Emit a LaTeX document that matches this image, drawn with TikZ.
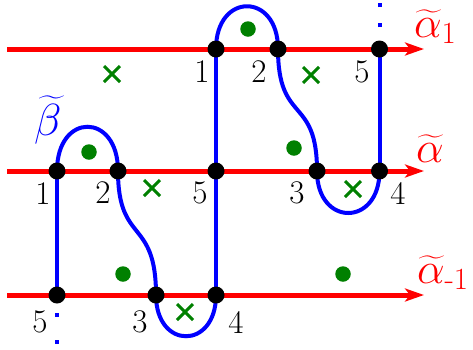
\RequirePackage{fix-cm}
\documentclass[tikz,border=0pt]{standalone}
\usepackage{amsmath}
\usetikzlibrary{arrows.meta,shapes.misc}
\definecolor{dkgreen}{RGB}{0,128,0}
\begin{document}
\begin{tikzpicture}[x=1pt,y=-1pt,
  redline/.style={red, line width=5pt, -{Stealth[length=19pt,width=13pt,inset=5pt]}},
  blueline/.style={blue, line width=4pt},
  bluedots/.style={blue, line width=4pt},
  dot/.style={circle, fill=black, minimum size=17pt, inner sep=0pt},
  gdot/.style={circle, fill=dkgreen, minimum size=15.5pt, inner sep=0pt},
  gcross/.style={cross out, draw=dkgreen, line width=3pt, minimum size=13pt, inner sep=0pt},
  numlab/.style={inner sep=0pt, font=\fontsize{33}{40}\selectfont},
  mathlab/.style={inner sep=0pt, anchor=base west, font=\fontsize{44}{52}\selectfont}
]
\useasboundingbox (0,0) rectangle (473,349);
% red lines
\coordinate (s1) at (7,49);  \coordinate (e1) at (424,49);
\coordinate (s0) at (7,171); \coordinate (e0) at (424,171);
\coordinate (sm) at (7,295); \coordinate (em) at (424,295);
\draw[redline] (s1) -- (e1);
\draw[redline] (s0) -- (e0);
\draw[redline] (sm) -- (em);
% intersection points (coordinates)
\coordinate (t1) at (216,49);
\coordinate (t2) at (278,49);
\coordinate (t5) at (379.5,49);
\coordinate (m1) at (57,171);
\coordinate (m2) at (118,171);
\coordinate (m5) at (216,171);
\coordinate (m3) at (317,171);
\coordinate (m4) at (379.5,171);
\coordinate (b5) at (57,295);
\coordinate (b3) at (156,295);
\coordinate (b4) at (216,295);
% blue curve
\draw[blueline] (t1) .. controls (216,-8) and (278,-8) .. (t2);
\draw[blueline] (t2) .. controls (278,125) and (317,95) .. (m3);
\draw[blueline] (m3) .. controls (317,227) and (379.5,227) .. (m4);
\draw[blueline] (m4) -- (t5);
\draw[blueline] (t1) -- (b4);
\draw[blueline] (b4) .. controls (216,350) and (156,350) .. (b3);
\draw[blueline] (b3) .. controls (156,217) and (118,245) .. (m2);
\draw[blueline] (m2) .. controls (118,112) and (57,112) .. (m1);
\draw[blueline] (m1) -- (b5);
\coordinate (td) at (379.5,27); \coordinate (tde) at (379.5,1);
\coordinate (bd) at (57,313); \coordinate (bde) at (57,349);
\draw[bluedots, dash pattern=on 4pt off 16pt] (td) -- (tde);
\draw[bluedots, dash pattern=on 4pt off 23pt] (bd) -- (bde);
% black dots
\foreach \p in {t1,t2,t5,m1,m2,m5,m3,m4,b5,b3,b4}
  \node[dot] (d\p) at (\p) {};
% green dots
\node[gdot] (g1) at (248,29) {};
\node[gdot] (g2) at (294,148) {};
\node[gdot] (g3) at (89,152) {};
\node[gdot] (g4) at (123,274) {};
\node[gdot] (g5) at (343,274) {};
% green crosses
\node[gcross] (c1) at (112,74) {};
\node[gcross] (c2) at (311,75) {};
\node[gcross] (c3) at (152,188) {};
\node[gcross] (c4) at (353,189) {};
\node[gcross] (c5) at (185,312) {};
% number labels
\node[numlab] (n1) at (202,72) {1};
\node[numlab] (n2) at (259,72) {2};
\node[numlab] (n3) at (362,72) {5};
\node[numlab] (n4) at (43,194) {1};
\node[numlab] (n5) at (103,193) {2};
\node[numlab] (n6) at (200,193) {5};
\node[numlab] (n7) at (297,193) {3};
\node[numlab] (n8) at (398,193) {4};
\node[numlab] (n9) at (40,322) {5};
\node[numlab] (n10) at (140,322) {3};
\node[numlab] (n11) at (236,322) {4};
% math labels
\node[mathlab, text=red] (a1) at (414,37) {$\widetilde{\alpha}_1$};
\node[mathlab, text=red] (a0) at (416,162) {$\widetilde{\alpha}$};
\node[mathlab, text=red] (am) at (417,283) {$\widetilde{\alpha}_{\text{-}1}$};
\node[mathlab, text=blue, font=\fontsize{45}{52}\selectfont] (be) at (34,135) {$\widetilde{\beta}$};
\end{tikzpicture}
\end{document}
